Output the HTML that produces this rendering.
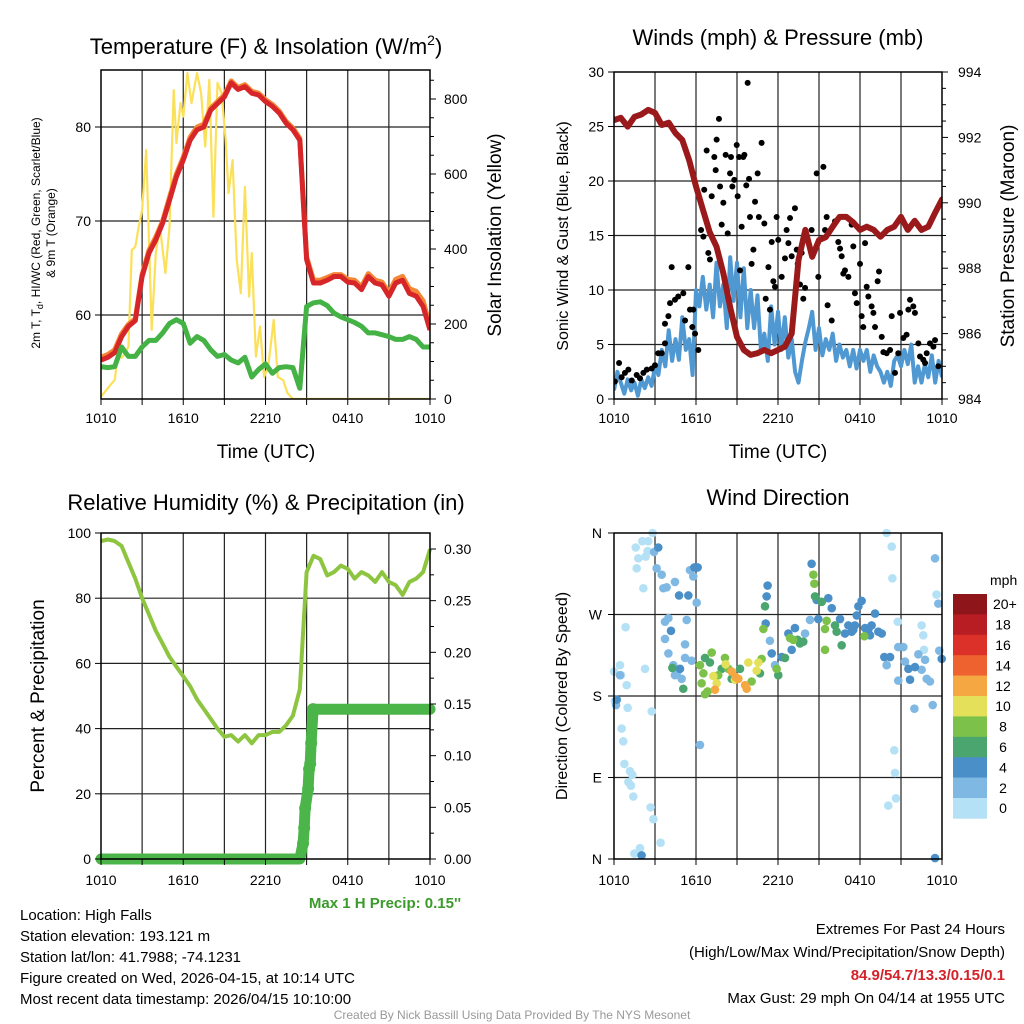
<!DOCTYPE html>
<html><head><meta charset="utf-8"><style>
body{margin:0;background:#fff}
svg{display:block;font-family:"Liberation Sans",Arial,sans-serif}
</style></head><body>
<svg id="c" width="1024" height="1024" viewBox="0 0 1024 1024"></svg>
<script>
// ---------- DATA ----------
const hrs = [0,0.5,1,1.5,2,2.5,3,3.5,4,4.5,5,5.5,6,6.5,7,7.5,8,8.5,9,9.5,10,10.5,11,11.5,12,12.5,13,13.5,14,14.5,15,15.5,16,16.5,17,17.5,18,18.5,19,19.5,20,20.5,21,21.5,22,22.5,23,23.5,24];
const xTickLabels = ["1010","1610","2210","0410","1010"];
const tempRed = [55.2,55.5,56,57.7,58.8,59.4,64.1,66.6,68,69.8,72.2,74.7,76.5,78.6,79.7,80,81.8,82.5,83.2,84.7,84,84.3,83.6,83.4,82.7,82.2,81.5,80.4,79.7,78.6,65.9,63.4,63.4,63.7,64.1,64.1,63.5,63.4,62.7,64.1,63.4,63.2,62,63.4,63.7,62.3,62,60.9,58.4];
const temp9m = [55.5,55.8,56.3,58,59,59.6,64.3,66.9,68.3,70,72.5,75,76.8,78.9,80,80.3,82,82.7,83.4,84.9,84.2,84.5,83.8,83.6,82.9,82.4,81.7,80.6,79.9,78.8,66.2,63.7,63.7,64,64.3,64.3,63.8,63.7,63,64.4,63.7,63.5,62.4,63.8,64.1,62.8,62.5,61.5,58.8];
const dewGreen = [54.5,54.4,54.5,56.6,55.6,55.6,56.6,57.3,57.3,58.1,59.1,59.5,59.1,57,57.7,57.3,56.3,55.6,55.8,55.2,54.9,55.5,53.4,54.2,54.8,53.8,54.4,54.5,54.4,52.2,60.9,61.3,61.4,61,60.2,59.8,59.5,59.2,58.8,58.1,58.1,57.9,57.7,57.4,57.4,57.7,57.4,56.6,56.6];
const solarHrs = [0,0.5,1,1.25,1.5,1.75,2,2.25,2.5,2.75,3,3.3,3.7,4,4.3,4.7,5,5.3,5.5,5.8,6,6.3,6.6,7,7.3,7.6,7.9,8.2,8.5,8.8,9.1,9.3,9.6,9.9,10.2,10.5,10.8,11,11.3,11.6,11.9,12.2,12.6,12.9,13.3,13.6,14,24];
const solarVals = [6,29,51,122,110,122,139,397,406,459,504,664,184,389,459,336,459,824,683,789,753,869,789,869,816,673,851,486,843,816,690,549,637,371,282,566,273,389,113,193,59,86,211,59,50,16,0,0];
const pressure = [992.53,992.6,992.33,992.63,992.7,992.84,992.75,992.38,992.45,992.13,991.92,991.3,990.5,989.8,989.1,988.66,987.85,986.8,985.9,985.5,985.35,985.4,985.5,985.4,985.5,985.6,986,988.25,989.17,988.35,988.86,988.95,989.27,989.57,989.57,989.4,989.17,989.27,989.17,988.96,989.17,989.27,989.57,989.17,989.45,989.17,989.27,989.7,990.1];
const windHrs = [0,0.25,0.5,0.75,1,1.25,1.5,1.75,2,2.25,2.5,2.75,3,3.25,3.5,3.75,4,4.25,4.5,4.75,5,5.25,5.5,5.75,6,6.25,6.5,6.75,7,7.25,7.5,7.75,8,8.25,8.5,8.75,9,9.25,9.5,9.75,10,10.25,10.5,10.75,11,11.25,11.5,11.75,12,12.25,12.5,12.75,13,13.25,13.5,13.75,14,14.25,14.5,14.75,15,15.25,15.5,15.75,16,16.25,16.5,16.75,17,17.25,17.5,17.75,18,18.25,18.5,18.75,19,19.25,19.5,19.75,20,20.25,20.5,20.75,21,21.25,21.5,21.75,22,22.25,22.5,22.75,23,23.25,23.5,23.75,24];
const windSpd = [0.8,2.5,1.5,0.5,1.8,0.8,1.5,0.3,1.8,1.0,2,1.2,3,2.2,4.5,3,6.3,3.5,5.5,3.6,7.5,4.5,5.5,2.2,10,8.5,11.2,8.2,10.5,7.5,12.5,8.5,10.5,6.5,13,9,12.5,7.5,12,6.5,10,6.5,9.5,4.5,6,3.5,8.5,5,8,4.5,7.5,3.8,5.5,2.5,1.5,3.5,5.2,6.5,8,4.5,6.5,4,5.5,4.5,6,3.5,5,3.8,4.5,3,4.5,2.8,4.5,3.5,4.5,2.5,4,3,2.5,1.5,2.5,1.2,3.5,4,3,4.5,3.2,5,1.5,3,1.5,3.2,2,4,1.5,3.5,2];
const gustHrs = [0.07,0.37,0.56,0.8,1.05,1.3,1.66,1.9,2.15,2.4,2.76,3.0,3.24,3.49,3.73,3.73,3.98,4.22,4.1,4.46,4.7,5.07,5.2,5.44,5.56,5.8,5.73,5.93,6.17,6.37,6.54,6.6,6.78,6.9,7.02,7.15,7.34,7.44,7.51,7.68,7.76,7.88,8.0,8.17,8.32,8.49,8.56,8.66,8.8,8.98,9.05,9.15,9.22,9.34,9.46,9.54,9.68,9.78,9.88,9.95,10.07,10.2,10.32,10.51,10.6,10.8,11.0,11.1,11.3,11.41,11.54,11.66,11.78,11.9,12.02,12.27,12.51,12.63,12.76,12.88,13.0,13.24,13.37,13.44,13.61,13.73,13.85,13.98,14.46,14.83,14.95,15.32,15.44,15.56,15.63,15.93,16.17,16.41,16.54,16.66,16.78,16.9,17.15,17.39,17.51,17.63,17.76,18.0,18.12,18.24,18.37,18.49,18.61,18.85,18.98,19.1,19.29,19.39,19.59,19.71,19.95,20.2,20.32,20.56,20.8,20.93,21.17,21.41,21.54,21.66,21.9,22.02,22.27,22.39,22.63,22.76,22.88,23.12,23.37,23.49,23.73];
const gustVals = [1.6,3.3,2.0,2.4,2.7,1.7,2.2,1.9,2.4,2.7,2.8,3.1,4.2,4.2,5.1,6.9,7.6,12.1,8.8,9.1,9.4,9.7,7.2,12.1,8.2,8.2,6.6,6.0,4.5,15.5,14.9,19.2,22.8,13.4,12.8,18.6,22.2,21.0,23.8,25.7,19.5,16.0,18.0,22.4,15.2,20.7,22.2,19.5,20.1,23.3,18.6,22.2,11.8,15.8,22.2,22.4,19.6,29.0,20.2,16.7,12.4,13.7,18.1,20.7,16.7,23.5,16.1,9.2,12.1,8.2,14.4,10.8,10.3,16.7,14.6,11.2,12.9,15.5,14.3,16.6,13.1,17.5,13.7,12.4,10.5,13.4,9.2,10.2,15.5,20.7,11.2,21.3,15.5,16.7,8.6,7.2,16.3,14.4,13.8,13.1,11.5,11.8,11.2,16.0,14.0,9.7,8.8,12.4,7.6,6.6,14.3,10.3,9.4,8.5,7.9,6.6,10.8,11.7,5.7,4.3,4.2,4.5,7.6,2.4,4.2,7.9,5.6,5.9,8.2,9.1,8.5,7.9,5.1,3.9,3.6,3.3,4.2,5.1,4.8,5.4,3.0];
const rhVals = [97.5,98,97.5,96,91,86,80,75,70,66,62,59,56,53,49,46,43,40,37.5,38,36,38,35.5,38,38,39,39,41,44,52,88,93,92,87,88,90,89,86,88,87,85,88,85,84,81,85,86,88,95];
const precipHrs = [0,14.5,14.74,14.82,14.89,15.11,15.18,15.26,15.33,15.47,24];
const precipVals = [0,0,0.015,0.03,0.049,0.068,0.087,0.092,0.112,0.145,0.145];
const dirHrs = [0,0.44,0.51,0.93,0.07,1.0,0.56,0.68,0.76,1.17,1.34,1.05,1.24,1.41,2.68,2.88,3.41,1.49,1.9,2.76,2.27,0.85,2.15,1.66,1.78,1.59,2.07,2.51,2.83,2.46,2.32,19.95,20.32,20.37,20.76,22.51,22.63,22.68,20.51,20.56,20.63,20.07,23.6,
2.93,3.12,3.49,3.61,3.85,4.46,5.56,5.8,6.05,5.32,3.73,3.98,3.73,3.98,4.34,4.59,4.95,5.2,5.2,5.68,11.78,11.41,13.98,14.34,20.8,21.17,21.29,20.8,22.27,22.76,22.51,22.88,23.12,23.32,23.8,21.98,0.15,6.29,19.95,23.49,23.73,0.44,4.46,
3.24,4.76,5.44,4.17,4.83,5.88,6.12,11.24,11.17,11.1,11.54,12.76,13.24,13.0,12.27,14.46,14.83,15.68,15.93,14.95,16.54,16.9,17.15,17.39,17.63,17.88,18.12,17.76,18.37,18.61,18.85,19.1,19.34,19.59,19.78,20.2,21.54,21.66,22.02,23.98,23.49,2.02,0.2,17.51,18.73,
6.66,7.02,7.88,8.61,9.22,10.68,12.51,12.02,13.44,13.61,13.85,14.71,15.2,16.17,16.29,16.66,5.07,4.27,11.05,
7.15,6.29,6.54,6.41,6.85,7.63,8.37,10.07,10.8,11.9,12.88,14.59,14.66,15.44,15.44,15.56,18.32,10.93,6.66,8.12,13.12,
8.17,7.27,9.83,10.56,10.44,7.51,8.85,
8.61,8.9,9.1,9.59,9.71,7.39];
const dirDeg = [207,214,203,192,174,167,144,130,105,97,93,85,81,69,57,44,18,6,12,163,210,256,299,321,332,344,351,351,360,340,334,360,345,310,262,258,247,231,120,95,67,59,292,
339,321,314,299,300,306,319,312,283,264,262,266,243,227,214,205,199,237,222,219,214,241,249,264,234,234,218,197,226,220,209,199,196,170,230,166,170,126,214,332,282,203,203,
344,291,291,252,210,322,322,302,290,260,227,249,255,231,223,326,286,288,277,265,265,249,258,251,258,279,285,269,255,253,258,271,251,249,223,223,210,198,212,221,1,4,176,253,247,
222,217,210,199,210,205,222,203,242,238,240,290,284,258,251,236,188,211,279,
228,214,205,194,185,203,210,196,221,210,244,314,304,231,254,263,246,254,182,222,242,
215,202,217,217,208,194,198,
207,201,199,192,188,187];
const dirSpd = [0,0,0,0,0,0,0,0,0,0,0,0,0,0,0,0,0,0,0,0,0,0,0,0,0,0,0,0,0,0,0,0,0,0,0,0,0,0,0,0,0,0,0,
2,2,2,2,2,2,2,2,2,2,2,2,2,2,2,2,2,2,2,2,2,2,2,2,2,2,2,2,2,2,2,2,2,2,2,2,2,2,2,2,2,2,2,
4,4,4,4,4,4,4,4,4,4,4,4,4,4,4,4,4,4,4,4,4,4,4,4,4,4,4,4,4,4,4,4,4,4,4,4,4,4,4,4,4,4,4,4,4,
6,6,6,6,6,6,6,6,6,6,6,6,6,6,6,6,6,6,6,
8,8,8,8,8,8,8,8,8,8,8,8,8,8,8,8,8,8,8,8,8,
10,10,10,10,10,10,10,
12,12,12,12,12,12];
const cbLabels = ["20+","18","16","14","12","10","8","6","4","2","0"];
const cbColors = ["#8e1519","#b91d24","#dc3128","#ee6230","#f5a742","#e5e05a","#7cc24a","#4aa56e","#4a8fc7","#7fb9e3","#b5e1f6"];

// ---------- HELPERS ----------
const NS="http://www.w3.org/2000/svg";
const svg=document.getElementById('c');
function mk(tag,attrs,parent){const e=document.createElementNS(NS,tag);for(const k in attrs)e.setAttribute(k,attrs[k]);(parent||svg).appendChild(e);return e;}
function txt(s,x,y,size,anchor,parent,extra){const t=mk('text',Object.assign({x:x,y:y,'font-size':size,'text-anchor':anchor||'middle',fill:'#000'},extra||{}),parent);t.textContent=s;return t;}
function lin(a,b,c,d){return (v)=>c+(v-a)*(d-c)/(b-a);}
function pathOf(xs,ys,fx,fy){let d='';for(let i=0;i<xs.length;i++){d+=(i?'L':'M')+fx(xs[i]).toFixed(1)+','+fy(ys[i]).toFixed(1);}return d;}

function frame(L,T,R,B,name){
  const g=mk('g',{});
  
  
  const fx=lin(0,24,L,R);
  for(let h=3;h<24;h+=3){mk('line',{x1:fx(h),x2:fx(h),y1:T,y2:B,stroke:'#222','stroke-width':1.2},g);}
  return {g,fx};
}
function hgrid(g,ys,L,R){ys.forEach(y=>mk('line',{x1:L,x2:R,y1:y,y2:y,stroke:'#222','stroke-width':1.2},g));}
function border(g,L,T,R,B){mk('rect',{x:L,y:T,width:R-L,height:B-T,fill:'none',stroke:'#000','stroke-width':1.5},g);}
function xticks(g,fx,B,off){
  const ax=mk('g',{},g);
  
  
  for(let h=0;h<=24;h+=3){mk('line',{x1:fx(h),x2:fx(h),y1:B,y2:B+6,stroke:'#000','stroke-width':1},ax);}
  xTickLabels.forEach((s,i)=>{txt(s,fx(i*6),B+off,14,'middle',ax);});
}

// ================= PANEL 1: Temperature =================
(function(){
  const L=101,T=70,R=430,B=399;
  const {g,fx}=frame(L,T,R,B,'temperature-panel');
  const fy=lin(60,80,315,127);
  const fs=lin(0,800,399,99);
  hgrid(g,[fy(60),fy(70),fy(80)],L,R);
  const clip=mk('clipPath',{id:'cp1'});mk('rect',{x:L,y:T,width:R-L,height:B-T},clip);
  const pl=mk('g',{'clip-path':'url(#cp1)'},g);
  let p=mk('path',{d:pathOf(solarHrs,solarVals,fx,fs),fill:'none',stroke:'#fbe05a','stroke-width':2.2,'stroke-linejoin':'round'},pl);
  
  p=mk('path',{d:pathOf(hrs,temp9m,fx,fy),fill:'none',stroke:'#f58634','stroke-width':5,'stroke-linejoin':'round'},pl);
  
  p=mk('path',{d:pathOf(hrs,tempRed,fx,fy),fill:'none',stroke:'#d6262a','stroke-width':5,'stroke-linejoin':'round'},pl);
  
  p=mk('path',{d:pathOf(hrs,dewGreen,fx,fy),fill:'none',stroke:'#44b244','stroke-width':5,'stroke-linejoin':'round'},pl);
  
  border(g,L,T,R,B);
  xticks(g,fx,B,24);
  [60,70,80].forEach(v=>{mk('line',{x1:L-6,x2:L,y1:fy(v),y2:fy(v),stroke:'#000'},g);txt(String(v),L-10,fy(v)+5,14,'end',g);});
  [0,200,400,600,800].forEach(v=>{mk('line',{x1:R,x2:R+6,y1:fs(v),y2:fs(v),stroke:'#000'},g);txt(String(v),R+14,fs(v)+5,14,'start',g);});
  for(let v=50;v<870;v+=50){if(v%200)mk('line',{x1:R,x2:R+4,y1:fs(v),y2:fs(v),stroke:'#000'},g);}
})();

// ================= PANEL 2: Winds =================
(function(){
  const L=614,T=72,R=942,B=399;
  const {g,fx}=frame(L,T,R,B,'winds-panel');
  const fy=lin(0,30,399,72);
  const fp=lin(984,994,399,72);
  hgrid(g,[5,10,15,20,25].map(fy),L,R);
  const clip=mk('clipPath',{id:'cp2'});mk('rect',{x:L,y:T,width:R-L,height:B-T},clip);
  const pl=mk('g',{'clip-path':'url(#cp2)'},g);
  let p=mk('path',{d:pathOf(windHrs,windSpd,fx,fy),fill:'none',stroke:'#4f98d2','stroke-width':4,'stroke-linejoin':'round'},pl);
  
  for(let i=0;i<gustHrs.length;i++){
    const c=mk('circle',{cx:fx(gustHrs[i]),cy:fy(gustVals[i]),r:3,fill:'#000'},pl);
    
    
  }
  p=mk('path',{d:pathOf(hrs,pressure,fx,fp),fill:'none',stroke:'#9a1a1c','stroke-width':6,'stroke-linejoin':'round','stroke-linecap':'round'},pl);
  
  border(g,L,T,R,B);
  xticks(g,fx,B,24);
  [0,5,10,15,20,25,30].forEach(v=>{mk('line',{x1:L-6,x2:L,y1:fy(v),y2:fy(v),stroke:'#000'},g);txt(String(v),L-10,fy(v)+5,14,'end',g);});
  [984,986,988,990,992,994].forEach(v=>{mk('line',{x1:R,x2:R+6,y1:fp(v),y2:fp(v),stroke:'#000'},g);txt(String(v),R+16,fp(v)+5,14,'start',g);});
  for(let v=984.5;v<994;v+=0.5){if(v%2)mk('line',{x1:R,x2:R+4,y1:fp(v),y2:fp(v),stroke:'#000'},g);}
})();

// ================= PANEL 3: RH & Precip =================
(function(){
  const L=101,T=533,R=430,B=859;
  const {g,fx}=frame(L,T,R,B,'humidity-panel');
  const fy=lin(0,100,859,533);
  const fq=lin(0,0.3,859,549);
  hgrid(g,[20,40,60,80].map(fy),L,R);
  const clip=mk('clipPath',{id:'cp3'});mk('rect',{x:L-6,y:T,width:R-L+12,height:B-T+8},clip);
  const pl=mk('g',{'clip-path':'url(#cp3)'},g);
  let p=mk('path',{d:pathOf(hrs,rhVals,fx,fy),fill:'none',stroke:'#8dc540','stroke-width':4,'stroke-linejoin':'round'},pl);
  
  p=mk('path',{d:pathOf(precipHrs,precipVals,fx,fq),fill:'none',stroke:'#4bb549','stroke-width':11,'stroke-linejoin':'round','stroke-linecap':'round'},pl);
  
  for(let i=2;i<precipHrs.length-1;i++){
    const c=mk('circle',{cx:fx(precipHrs[i]),cy:fq(precipVals[i]),r:6,fill:'#4bb549'},pl);
    
    
  }
  border(g,L,T,R,B);
  xticks(g,fx,B,26);
  [0,20,40,60,80,100].forEach(v=>{mk('line',{x1:L-6,x2:L,y1:fy(v),y2:fy(v),stroke:'#000'},g);txt(String(v),L-10,fy(v)+5,14,'end',g);});
  [0,0.05,0.1,0.15,0.2,0.25,0.3].forEach(v=>{mk('line',{x1:R,x2:R+6,y1:fq(v),y2:fq(v),stroke:'#000'},g);txt(v.toFixed(2),R+14,fq(v)+5,14,'start',g);});
  for(let v=0.025;v<0.31;v+=0.05){mk('line',{x1:R,x2:R+4,y1:fq(v),y2:fq(v),stroke:'#000'},g);}
})();

// ================= PANEL 4: Wind Direction =================
(function(){
  const L=614,T=533,R=942,B=859;
  const {g,fx}=frame(L,T,R,B,'wind-direction-panel');
  const fy=lin(0,360,859,533);
  hgrid(g,[90,180,270].map(fy),L,R);
  const colorFor=s=>cbColors[10-Math.min(10,Math.floor(s/2))];
  for(let i=0;i<dirHrs.length;i++){
    const c=mk('circle',{cx:fx(dirHrs[i]),cy:fy(dirDeg[i]),r:4.3,fill:colorFor(dirSpd[i])},g);
    
    
  }
  border(g,L,T,R,B);
  xticks(g,fx,B,26);
  ['N','E','S','W','N'].forEach((s,i)=>{const v=i*90;mk('line',{x1:L-6,x2:L,y1:fy(v),y2:fy(v),stroke:'#000'},g);txt(s,L-12,fy(v)+5,14,'end',g);});
  const cb=mk('g',{});
  
  
  const top=594,h=20.4;
  cbColors.forEach((c,i)=>mk('rect',{x:953,y:top+i*h,width:34,height:h+0.3,fill:c},cb));
  cbLabels.forEach((s,i)=>txt(s,i==0?993:1003,top+i*h+h/2+5,14,i==0?'start':'middle',cb));
  txt('mph',990,585,14,'start',cb);
})();

// ================= TEXT =================
let t=txt('',266,54,22,'middle');
t.innerHTML='Temperature (F) &amp; Insolation (W/m<tspan dy="-9" font-size="14">2</tspan><tspan dy="9">)</tspan>';
t=txt('Winds (mph) & Pressure (mb)',778,45,22);
t=txt('Relative Humidity (%) & Precipitation (in)',266,510,22);
t=txt('Wind Direction',778,505,22);
[[266,458],[778,458]].forEach(p=>{const e=txt('Time (UTC)',p[0],p[1],19);});
t=txt('',0,0,12,'middle',svg,{transform:'translate(40,233) rotate(-90)'});
t.innerHTML='2m T, T<tspan dy="3" font-size="9">d</tspan><tspan dy="-3">, HI/WC (Red, Green, Scarlet/Blue)</tspan>';
t=txt('& 9m T (Orange)',0,0,12,'middle',svg,{transform:'translate(55,233) rotate(-90)'});
t=txt('Solar Insolation (Yellow)',0,0,19,'middle',svg,{transform:'translate(501,235) rotate(-90)'});
t=txt('Sonic Wind & Gust (Blue, Black)',0,0,16,'middle',svg,{transform:'translate(568,236) rotate(-90)'});
t=txt('Station Pressure (Maroon)',0,0,19,'middle',svg,{transform:'translate(1014,236) rotate(-90)'});
t=txt('Percent & Precipitation',0,0,19,'middle',svg,{transform:'translate(44,696) rotate(-90)'});
t=txt('Direction (Colored By Speed)',0,0,16,'middle',svg,{transform:'translate(567,696) rotate(-90)'});
t=txt("Max 1 H Precip: 0.15''",385,908,15,'middle',svg,{fill:'#3a9a2a','font-weight':'bold'});
["Location: High Falls","Station elevation: 193.121 m","Station lat/lon: 41.7988; -74.1231","Figure created on Wed, 2026-04-15, at 10:14 UTC","Most recent data timestamp: 2026/04/15 10:10:00"].forEach((s,i)=>{const e=txt(s,20,920+i*21,15,'start');});
t=txt('Extremes For Past 24 Hours',1005,934,15,'end');
t=txt('(High/Low/Max Wind/Precipitation/Snow Depth)',1005,957,15,'end');
t=txt('84.9/54.7/13.3/0.15/0.1',1005,980,15,'end',svg,{fill:'#d3222a','font-weight':'bold'});
t=txt('Max Gust: 29 mph On 04/14 at 1955 UTC',1005,1003,15,'end');
t=txt('Created By Nick Bassill Using Data Provided By The NYS Mesonet',512,1019,12,'middle',svg,{fill:'#999'});
</script>
</body></html>
